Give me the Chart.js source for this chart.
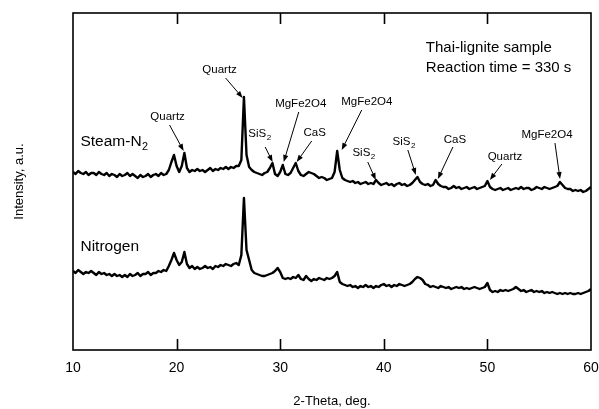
<!DOCTYPE html>
<html>
<head>
<meta charset="utf-8">
<script src="https://cdn.jsdelivr.net/npm/chart.js@4/dist/chart.umd.min.js"></script>
<style>
  html, body { margin: 0; padding: 0; background: #fff; }
  #wrap { width: 599px; height: 409px; }
</style>
</head>
<body>
<div id="wrap"><canvas id="xrdChart"></canvas></div>
<script>
// 2-theta grid (deg), 0.25 step
const twoTheta = [
  10, 10.25, 10.5, 10.75, 11, 11.25, 11.5, 11.75, 12, 12.25, 12.5, 12.75, 13, 13.25, 13.5, 13.75,
  14, 14.25, 14.5, 14.75, 15, 15.25, 15.5, 15.75, 16, 16.25, 16.5, 16.75, 17, 17.25, 17.5, 17.75,
  18, 18.25, 18.5, 18.75, 19, 19.25, 19.5, 19.75, 20, 20.25, 20.5, 20.75, 21, 21.25, 21.5, 21.75,
  22, 22.25, 22.5, 22.75, 23, 23.25, 23.5, 23.75, 24, 24.25, 24.5, 24.75, 25, 25.25, 25.5, 25.75,
  26, 26.25, 26.5, 26.75, 27, 27.25, 27.5, 27.75, 28, 28.25, 28.5, 28.75, 29, 29.25, 29.5, 29.75,
  30, 30.25, 30.5, 30.75, 31, 31.25, 31.5, 31.75, 32, 32.25, 32.5, 32.75, 33, 33.25, 33.5, 33.75,
  34, 34.25, 34.5, 34.75, 35, 35.25, 35.5, 35.75, 36, 36.25, 36.5, 36.75, 37, 37.25, 37.5, 37.75,
  38, 38.25, 38.5, 38.75, 39, 39.25, 39.5, 39.75, 40, 40.25, 40.5, 40.75, 41, 41.25, 41.5, 41.75,
  42, 42.25, 42.5, 42.75, 43, 43.25, 43.5, 43.75, 44, 44.25, 44.5, 44.75, 45, 45.25, 45.5, 45.75,
  46, 46.25, 46.5, 46.75, 47, 47.25, 47.5, 47.75, 48, 48.25, 48.5, 48.75, 49, 49.25, 49.5, 49.75,
  50, 50.25, 50.5, 50.75, 51, 51.25, 51.5, 51.75, 52, 52.25, 52.5, 52.75, 53, 53.25, 53.5, 53.75,
  54, 54.25, 54.5, 54.75, 55, 55.25, 55.5, 55.75, 56, 56.25, 56.5, 56.75, 57, 57.25, 57.5, 57.75,
  58, 58.25, 58.5, 58.75, 59, 59.25, 59.5, 59.75, 60
];

// intensities (a.u.)
const steamN2 = [
  178, 176, 179, 177, 176, 178, 175, 177, 177, 175, 178, 176, 175, 177, 174, 176,
  175, 173, 176, 174, 175, 177, 174, 176, 174, 172, 175, 173, 174, 176, 173, 175,
  176, 174, 177, 175, 176, 180, 188, 195, 184, 178, 184, 197, 182, 178, 180, 179,
  181, 179, 180, 178, 180, 182, 179, 181, 180, 182, 181, 183, 181, 183, 182, 184,
  184, 190, 253, 195, 183, 180, 178, 177, 176, 175, 177, 178, 182, 187, 176, 174,
  178, 185, 176, 175, 177, 182, 187, 179, 175, 174, 176, 178, 177, 176, 174, 172,
  173, 172, 170, 171, 172, 178, 199, 180, 172, 170, 169, 168, 169, 167, 168, 166,
  167, 168, 166, 167, 166, 170, 167, 165, 166, 167, 165, 166, 164, 166, 167, 165,
  166, 164, 165, 167, 170, 173, 168, 166, 165, 166, 164, 165, 170, 166, 164, 163,
  163, 161, 162, 164, 162, 163, 161, 162, 163, 161, 162, 163, 161, 162, 163, 164,
  169, 163, 161, 160, 161, 162, 160, 161, 162, 160, 161, 162, 161, 163, 161, 162,
  162, 160, 161, 163, 162, 161, 163, 162, 161, 162, 163, 164, 168, 165, 162, 161,
  161, 159, 160, 159, 160, 158, 159, 161, 163
];

const nitrogen = [
  79, 77, 80, 78, 76, 78, 77, 79, 77, 75, 78, 76, 77, 75, 76, 74,
  76, 74, 75, 73, 75, 73, 76, 74, 75, 77, 74, 76, 76, 78, 75, 77,
  77, 79, 78, 80, 79, 84, 90, 97, 90, 85, 88, 98, 86, 82, 84, 81,
  83, 81, 82, 84, 82, 83, 81, 84, 83, 85, 84, 86, 85, 84, 86, 87,
  85, 95, 152, 100, 90, 80, 77, 76, 75, 74, 74, 75, 76, 77, 79, 82,
  78, 72, 71, 72, 71, 73, 72, 75, 71, 70, 74, 71, 69, 71, 70, 72,
  71, 70, 72, 71, 72, 74, 78, 68, 66, 65, 64, 65, 63, 64, 62, 64,
  63, 65, 63, 64, 62, 64, 63, 65, 66, 64, 65, 63, 65, 64, 66, 65,
  64, 65, 66, 68, 71, 73, 72, 70, 66, 65, 63, 64, 63, 62, 64, 63,
  62, 63, 61, 62, 63, 62, 63, 61, 62, 61, 62, 63, 62, 61, 62, 63,
  67, 60, 58, 59, 58, 60, 59, 60, 59, 60, 61, 63, 61, 59, 60, 58,
  59, 60, 58, 59, 58, 59, 57, 58, 57, 58, 57, 56, 57, 56, 57, 56,
  57, 56, 56, 57, 56, 57, 58, 59, 61
];

const xTicks = [10, 20, 30, 40, 50, 60];

// peak labels: text, sub, text x/y, arrow start x/y, arrow tip x/y (data units)
const peakText  = ['Quartz', 'Quartz', 'SiS', 'MgFe2O4', 'CaS', 'MgFe2O4', 'SiS', 'SiS', 'CaS', 'Quartz', 'MgFe2O4'];
const peakSub   = ['', '', '2', '', '', '', '2', '2', '', '', ''];
const peakTextX = [19.13, 24.15, 28.0, 31.98, 33.33, 38.36, 38.05, 41.92, 46.86, 51.69, 55.75];
const peakTextY = [233, 280, 216, 246, 217, 248, 197, 208, 210, 193, 215];
const arrowX0   = [19.32, 24.73, 28.55, 31.79, 33.04, 37.87, 38.45, 42.32, 46.67, 51.40, 56.52];
const arrowY0   = [225, 272, 203, 238, 209, 240, 188, 200, 203, 186, 207];
const arrowX1   = [20.68, 26.38, 29.27, 30.34, 31.59, 35.94, 39.23, 43.09, 45.22, 50.24, 57.01];
const arrowY1   = [199, 252, 188, 188, 188, 200, 170, 175, 171, 170, 171];

const FONT = '"Liberation Sans", Arial, Helvetica, sans-serif';

function arrow(ctx, x0, y0, x1, y1) {
    const ang = Math.atan2(y1 - y0, x1 - x0);
    const len = 7, half = 2.6;
    ctx.beginPath();
    ctx.moveTo(x0, y0);
    ctx.lineTo(x1 - Math.cos(ang) * len * 0.8, y1 - Math.sin(ang) * len * 0.8);
    ctx.stroke();
    ctx.beginPath();
    ctx.moveTo(x1, y1);
    ctx.lineTo(x1 - Math.cos(ang) * len - Math.sin(ang) * half, y1 - Math.sin(ang) * len + Math.cos(ang) * half);
    ctx.lineTo(x1 - Math.cos(ang) * len + Math.sin(ang) * half, y1 - Math.sin(ang) * len - Math.cos(ang) * half);
    ctx.closePath();
    ctx.fill();
}

// text with optional subscript, left or centre aligned
function subText(ctx, main, sub, x, y, size, align) {
    ctx.font = size + 'px ' + FONT;
    const w1 = ctx.measureText(main).width;
    ctx.font = (size * 0.7) + 'px ' + FONT;
    const w2 = sub ? ctx.measureText(sub).width : 0;
    let left = align === 'center' ? x - (w1 + w2) / 2 : x;
    ctx.textAlign = 'left';
    ctx.textBaseline = 'middle';
    ctx.font = size + 'px ' + FONT;
    ctx.fillText(main, left, y);
    if (sub) {
        ctx.font = (size * 0.7) + 'px ' + FONT;
        ctx.fillText(sub, left + w1 + 0.5, y + size * 0.35);
    }
}

const framePlugin = {
    id: 'frame',
    afterDatasetsDraw(chart) {
        const ctx = chart.ctx;
        const a = chart.chartArea;
        const xs = chart.scales.x, ys = chart.scales.y;
        ctx.save();
        ctx.strokeStyle = '#000';
        ctx.fillStyle = '#000';
        ctx.lineWidth = 1.6;
        ctx.strokeRect(a.left, a.top, a.right - a.left, a.bottom - a.top);
        // inward ticks top and bottom
        xTicks.slice(1, -1).forEach(v => {
            const px = Math.round(xs.getPixelForValue(v)) + 0.5;
            ctx.beginPath();
            ctx.moveTo(px, a.bottom);
            ctx.lineTo(px, a.bottom - 11);
            ctx.moveTo(px, a.top);
            ctx.lineTo(px, a.top + 11);
            ctx.stroke();
        });

        // peak labels and arrows
        ctx.lineWidth = 1;
        peakText.forEach((t, i) => {
            subText(ctx, t, peakSub[i], xs.getPixelForValue(peakTextX[i]), ys.getPixelForValue(peakTextY[i]), 11.5, 'center');
            arrow(ctx, xs.getPixelForValue(arrowX0[i]), ys.getPixelForValue(arrowY0[i]),
                       xs.getPixelForValue(arrowX1[i]), ys.getPixelForValue(arrowY1[i]));
        });

        // series names and sample note
        subText(ctx, 'Steam-N', '2', xs.getPixelForValue(10.72), ys.getPixelForValue(208), 15.5, 'left');
        subText(ctx, 'Nitrogen', '', xs.getPixelForValue(10.72), ys.getPixelForValue(103), 15.5, 'left');
        subText(ctx, 'Thai-lignite sample', '', xs.getPixelForValue(44.06), ys.getPixelForValue(302), 15, 'left');
        subText(ctx, 'Reaction time = 330 s', '', xs.getPixelForValue(44.06), ys.getPixelForValue(282), 15, 'left');
        ctx.restore();
    }
};

const ctx = document.getElementById('xrdChart').getContext('2d');
new Chart(ctx, {
    type: 'line',
    data: {
        datasets: [
            { label: 'Steam-N2', data: twoTheta.map((x, i) => ({ x: x, y: steamN2[i] })) },
            { label: 'Nitrogen', data: twoTheta.map((x, i) => ({ x: x, y: nitrogen[i] })) }
        ]
    },
    options: {
        responsive: true,
        maintainAspectRatio: false,
        animation: false,
        layout: { padding: { top: 13, right: 8, left: 0, bottom: 0 } },
        elements: {
            line: { borderColor: '#000', borderWidth: 2.4, tension: 0, borderJoinStyle: 'round' },
            point: { radius: 0 }
        },
        plugins: { legend: { display: false }, tooltip: { enabled: false } },
        scales: {
            x: {
                type: 'linear', min: 10, max: 60,
                afterFit(scale) {
                    scale.height = 59;
                    scale.paddingLeft = 0;
                    scale.paddingRight = 0;
                },
                afterBuildTicks(scale) { scale.ticks = xTicks.map(v => ({ value: v })); },
                grid: { display: false, drawTicks: false },
                border: { display: false },
                ticks: { color: '#000', padding: 10, font: { family: FONT, size: 14 } },
                title: {
                    display: true, text: '2-Theta, deg.', color: '#000',
                    font: { family: FONT, size: 13 }, padding: { top: 0, bottom: 0 }
                }
            },
            y: {
                min: 0, max: 337,
                afterFit(scale) { scale.width = 73; },
                grid: { display: false, drawTicks: false },
                border: { display: false },
                ticks: { display: false },
                title: {
                    display: true, text: 'Intensity, a.u.', color: '#000',
                    font: { family: FONT, size: 13 }, padding: { top: 12, bottom: 0 }
                }
            }
        }
    },
    plugins: [framePlugin]
});
</script>
</body>
</html>
